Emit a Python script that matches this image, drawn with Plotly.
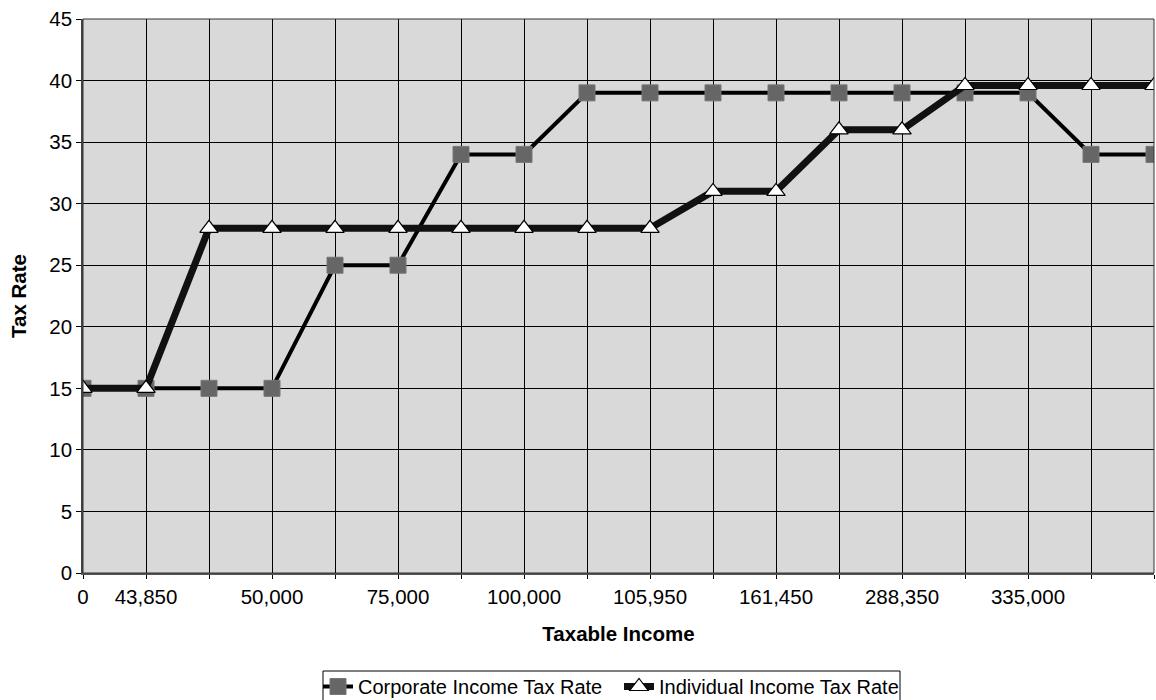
import plotly.graph_objects as go

categories = ["0", "43,850", "", "50,000", "", "75,000", "", "100,000", "", "105,950",
              "", "161,450", "", "288,350", "", "335,000", "", ""]
corporate = [15, 15, 15, 15, 25, 25, 34, 34, 39, 39, 39, 39, 39, 39, 39, 39, 34, 34]
individual = [15, 15, 28, 28, 28, 28, 28, 28, 28, 28, 31, 31, 36, 36, 39.6, 39.6, 39.6, 39.6]
y_ticks = [0, 5, 10, 15, 20, 25, 30, 35, 40, 45]

x = list(range(len(categories)))

fig = go.Figure()
fig.add_trace(go.Scatter(
    x=x, y=corporate, mode="lines+markers", name="Corporate Income Tax Rate",
    line=dict(color="black", width=4),
    marker=dict(symbol="square", size=16, color="#666666", line=dict(color="#777777", width=1)),
))
fig.add_trace(go.Scatter(
    x=x, y=individual, mode="lines+markers", name="Individual Income Tax Rate",
    line=dict(color="#111111", width=7),
    marker=dict(symbol="triangle-up", size=16, color="white", line=dict(color="black", width=1.2)),
))

font_family = "Liberation Sans, Arial, sans-serif"
fs = 20.5
plot_top, plot_bottom = 19, 573
ph = plot_bottom - plot_top
fig.update_layout(
    width=1156, height=700,
    margin=dict(l=83, r=2, t=plot_top, b=700 - plot_bottom, autoexpand=False),
    paper_bgcolor="white", plot_bgcolor="#d9d9d9",
    font=dict(family=font_family, size=fs, color="black"),
    showlegend=True,
    legend=dict(
        orientation="h", x=(318 - 83) / 1071, xanchor="left",
        y=-(667 - plot_bottom) / ph, yanchor="top",
        borderwidth=0, bgcolor="rgba(0,0,0,0)",
        font=dict(size=20), itemwidth=30, tracegroupgap=0,
        entrywidth=256, entrywidthmode="pixels",
    ),
    xaxis=dict(
        range=[0, len(categories) - 1], tickmode="array", tickvals=x, ticktext=categories,
        showgrid=True, gridcolor="black", gridwidth=1,
        ticks="outside", ticklen=4, tickcolor="black",
        showline=True, linecolor="#555555", linewidth=2,
        zeroline=False, tickangle=0,
        title=dict(text="<b>Taxable Income</b>", font=dict(size=fs), standoff=20),
    ),
    yaxis=dict(
        range=[0, 45], tickmode="array", tickvals=y_ticks,
        showgrid=True, gridcolor="black", gridwidth=1,
        ticks="outside", ticklen=5, tickcolor="black",
        showline=True, linecolor="#444444", linewidth=1.5,
        zeroline=False,
        title=dict(text="<b>Tax Rate</b>", font=dict(size=fs), standoff=17),
    ),
)
fig.add_shape(type="rect", xref="paper", yref="paper", x0=0, y0=0, x1=1, y1=1,
              line=dict(color="#333333", width=1), layer="above")
# legend frame (bottom edge falls outside the page, as in the reference)
fig.add_shape(type="rect", xref="paper", yref="paper",
              x0=(323 - 83) / 1071, x1=(900 - 83) / 1071,
              y0=-(671 - plot_bottom) / ph, y1=-(720 - plot_bottom) / ph,
              line=dict(color="black", width=1), fillcolor="white", layer="below")

fig.write_html("out.html")
